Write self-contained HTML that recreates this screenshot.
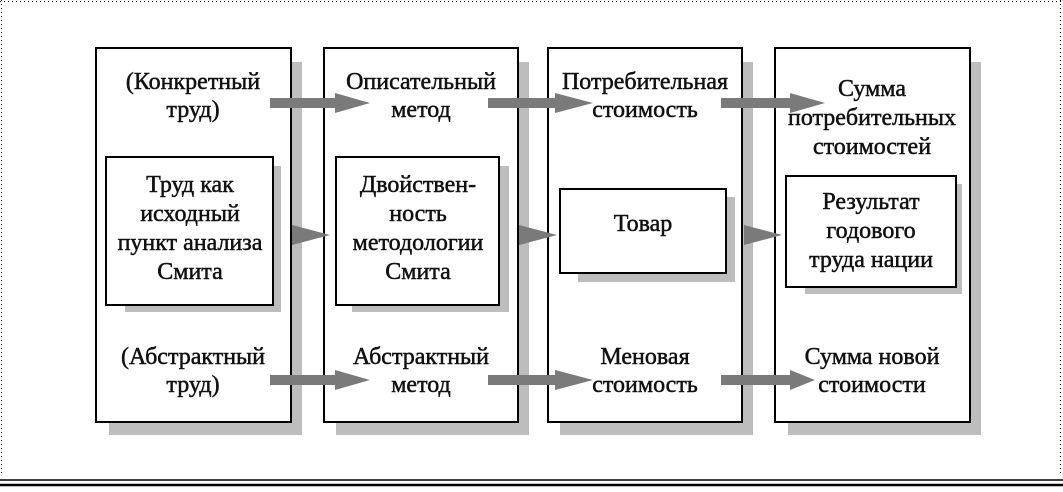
<!DOCTYPE html>
<html><head><meta charset="utf-8"><style>
body{margin:0;background:#fff}
svg text{font-family:"Liberation Serif",serif;font-size:24px;fill:#111;text-anchor:middle;font-weight:normal;stroke:#111;stroke-width:0.5}
</style></head><body>
<svg width="1063" height="487" viewBox="0 0 1063 487" xmlns="http://www.w3.org/2000/svg">
<line x1="1.5" y1="0" x2="1.5" y2="476" stroke="#000" stroke-dasharray="1,3"/>
<line x1="0" y1="1.5" x2="1063" y2="1.5" stroke="#000" stroke-dasharray="1,3"/>
<line x1="1060.5" y1="0" x2="1060.5" y2="476" stroke="#000" stroke-dasharray="1,3"/>
<line x1="0" y1="480" x2="1063" y2="480" stroke="#000" stroke-width="1.5"/>
<line x1="0" y1="485" x2="1063" y2="485" stroke="#000" stroke-width="2.5"/>
<g fill="#bdbdbd">
<rect x="109" y="62" width="193" height="373"/>
<rect x="336" y="62" width="193" height="373"/>
<rect x="560" y="62" width="193" height="373"/>
<rect x="788" y="62" width="193" height="373"/>
</g>
<g fill="#fff" stroke="#000" stroke-width="2">
<rect x="96" y="48" width="195" height="374"/>
<rect x="324" y="48" width="194" height="374"/>
<rect x="548" y="48" width="194" height="374"/>
<rect x="775" y="48" width="195" height="374"/>
</g>
<g fill="#bdbdbd">
<rect x="125" y="166" width="156" height="146"/>
<rect x="352" y="166" width="157" height="146"/>
<rect x="578" y="197" width="157" height="85"/>
<rect x="805" y="184" width="157" height="110"/>
</g>
<g fill="#fff" stroke="#000" stroke-width="2">
<rect x="106" y="157" width="167" height="148"/>
<rect x="336" y="157" width="163" height="148"/>
<rect x="560" y="189" width="166" height="84"/>
<rect x="786" y="176" width="170" height="111"/>
</g>
<g fill="#7a7a7a">
<polygon points="270,98 335,98 335,93 370,103 335,113 335,108 270,108"/>
<polygon points="488,98 555,98 555,93 593,103 555,113 555,108 488,108"/>
<polygon points="721,98 790,98 790,93 825,103 790,113 790,108 721,108"/>
<polygon points="270,375 335,375 335,370 370,380 335,390 335,385 270,385"/>
<polygon points="488,375 555,375 555,370 593,380 555,390 555,385 488,385"/>
<polygon points="721,375 790,375 790,370 815,380 790,390 790,385 721,385"/>
<polygon points="292,225 330,235 292,245"/>
<polygon points="519,225 557,235 519,245"/>
<polygon points="744,225 782,235 744,245"/>
</g>
<text x="193" y="89">(Конкретный</text><text x="193" y="117">труд)</text>
<text x="190" y="192">Труд как</text><text x="190" y="221">исходный</text><text x="190" y="250">пункт анализа</text><text x="190" y="279">Смита</text>
<text x="193" y="364">(Абстрактный</text><text x="193" y="392">труд)</text>
<text x="421" y="89">Описательный</text><text x="421" y="117">метод</text>
<text x="418" y="192">Двойствен-</text><text x="418" y="221">ность</text><text x="418" y="250">методологии</text><text x="418" y="279">Смита</text>
<text x="645" y="89">Потребительная</text><text x="645" y="117">стоимость</text>
<text x="643" y="231">Товар</text>
<text x="421" y="364">Абстрактный</text><text x="421" y="392">метод</text>
<text x="645" y="364">Меновая</text><text x="645" y="392">стоимость</text>
<text x="872" y="96">Сумма</text><text x="872" y="125">потребительных</text><text x="872" y="154">стоимостей</text>
<text x="871" y="209">Результат</text><text x="871" y="238">годового</text><text x="871" y="267">труда нации</text>
<text x="872" y="364">Сумма новой</text><text x="872" y="392">стоимости</text>
</svg>
</body></html>
